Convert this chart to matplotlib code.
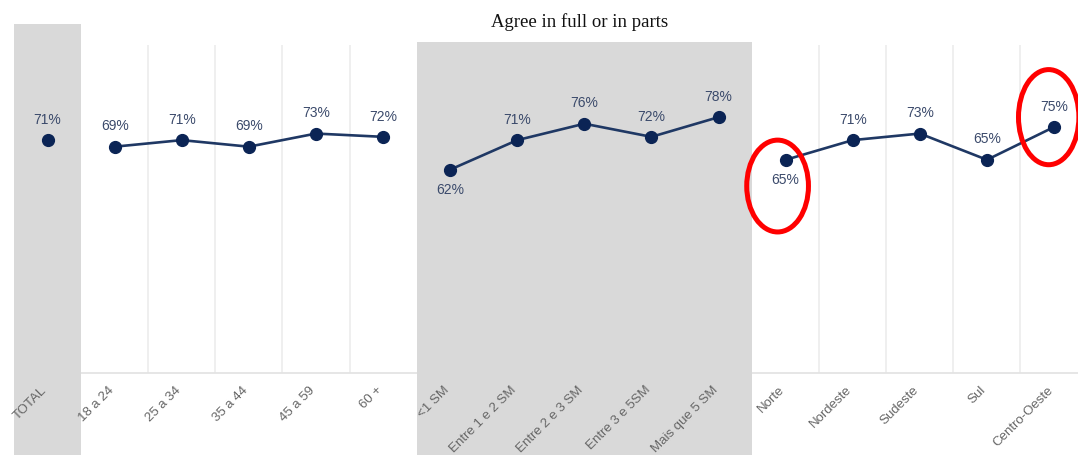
import matplotlib.pyplot as plt
from matplotlib.patches import Ellipse, Rectangle
from matplotlib.transforms import ScaledTranslation

plt.rcParams['font.family'] = ['Liberation Sans', 'DejaVu Sans']

# Categories per group and agreement share (%)
total_label = ['TOTAL']
age_labels = ['18 a 24', '25 a 34', '35 a 44', '45 a 59', '60 +']
income_labels = ['<1 SM', 'Entre 1 e 2 SM', 'Entre 2 e 3 SM', 'Entre 3 e 5SM', 'Mais que 5 SM']
region_labels = ['Norte', 'Nordeste', 'Sudeste', 'Sul', 'Centro-Oeste']

total_vals = [71]
age_vals = [69, 71, 69, 73, 72]
income_vals = [62, 71, 76, 72, 78]
region_vals = [65, 71, 73, 65, 75]

# labels drawn under the point instead of above
below = {'<1 SM', 'Norte'}
# highlighted points
circled = ['Norte', 'Centro-Oeste']

labels = total_label + age_labels + income_labels + region_labels
all_vals = total_vals + age_vals + income_vals + region_vals
line_col = '#1f3864'
dot_col = '#0b2455'
txt_col = '#3b4a6b'
band_col = '#d9d9d9'

fig = plt.figure(figsize=(10.78, 4.55), dpi=100)
W, H = 1078, 455
ax = fig.add_axes([14 / W, (H - 373) / H, 1073.6 / W, 328 / H])
ax.set_xlim(-0.5, 15.5)
ax.set_ylim(0, 100)
for s in ax.spines.values():
    s.set_visible(False)
ax.set_yticks([])

# grey bands behind TOTAL and income groups
ax.add_patch(Rectangle((-0.5, -30), 1, 136.5, color=band_col, zorder=1, clip_on=False, lw=0))
ax.add_patch(Rectangle((5.5, -30), 5, 131, color=band_col, zorder=1, clip_on=False, lw=0))

# light grid inside the white groups
for xg in [1.5, 2.5, 3.5, 4.5, 11.5, 12.5, 13.5, 14.5]:
    ax.plot([xg, xg], [0, 100], color='#ececec', lw=1.2, zorder=0)
ax.plot([0.5, 5.5], [0, 0], color='#e2e2e2', lw=1.2, zorder=0, clip_on=False)
ax.plot([10.5, 15.5], [0, 0], color='#e2e2e2', lw=1.2, zorder=0, clip_on=False)

start = 0
for vals in [total_vals, age_vals, income_vals, region_vals]:
    xs = list(range(start, start + len(vals)))
    ax.plot(xs, vals, color=line_col, lw=1.9, marker='o', ms=8.5,
            mfc=dot_col, mec=dot_col, zorder=3, clip_on=False)
    for x, v in zip(xs, vals):
        dy = -6.2 if labels[x] in below else 6.2
        ax.text(x, v + dy, f'{v}%', ha='center', va='center', fontsize=10,
                color=txt_col, zorder=4)
    start += len(vals)

# red highlight ellipses
offsets = {'Norte': (-0.12, -8, 0.92, 28), 'Centro-Oeste': (-0.08, 3, 0.9, 29)}
for name in circled:
    i = labels.index(name)
    dx, dv, w, h = offsets[name]
    ax.add_patch(Ellipse((i + dx, all_vals[i] + dv), w, h, fill=False, ec='#ff0000',
                         lw=3.6, zorder=5, clip_on=False))

ax.set_xticks(range(len(labels)))
ax.set_xticklabels(labels, rotation=45, ha='right', rotation_mode='anchor',
                   fontsize=9.5, color='#666666')
ax.tick_params(axis='x', length=0, pad=8)
shift = ScaledTranslation(-5 / 72, 0, fig.dpi_scale_trans)
for lab in ax.get_xticklabels():
    lab.set_transform(lab.get_transform() + shift)

fig.text(580 / W, 1 - 22 / H, 'Agree in full or in parts', ha='center', va='center',
         fontsize=13.5, family=['Liberation Serif', 'DejaVu Serif'], color='#111111')

fig.savefig('out.png', dpi=100)
